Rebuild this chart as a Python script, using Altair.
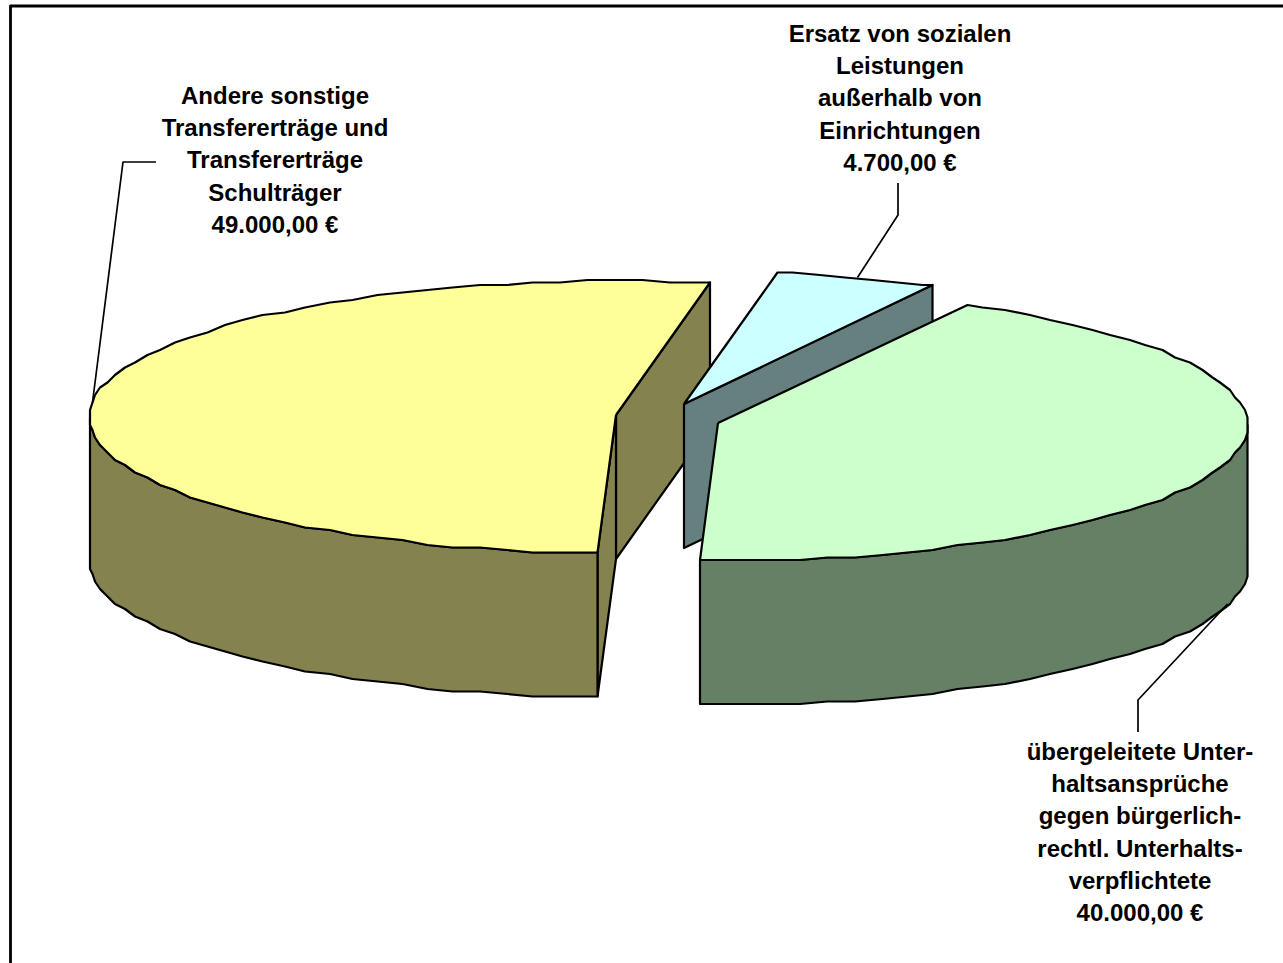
import math
import altair as alt
import pandas as pd

# Slice values in drawing order, counter-clockwise from the start angle
names = ["sonstige", "unterhalt", "ersatz"]
values = [49000.0, 40000.0, 4700.0]
label_lines = [
    ["Andere sonstige", "Transfererträge und", "Transfererträge", "Schulträger"],
    ["übergeleitete Unter-", "haltsansprüche", "gegen bürgerlich-", "rechtl. Unterhalts-", "verpflichtete"],
    ["Ersatz von sozialen", "Leistungen", "außerhalb von", "Einrichtungen"],
]
top_colors = ["#FFFF99", "#CCFFCC", "#CCFFFF"]
side_colors = ["#84824E", "#668066", "#668080"]

# Pie geometry in canvas units
W, H = 1283, 963
RX = [527, 529, 525]
RY, DEPTH = 136, 144
RIM_DROP = 2
START_DEG = 79.8
APEX = [(616, 415), (718, 423), (684, 404)]
STEP_DEG = 3
SNAP = 2.5


def euro(v):
    return f"{v:,.2f}".replace(",", "X").replace(".", ",").replace("X", ".") + " €"


total = sum(values)
spans = []
a = START_DEG
for v in values:
    spans.append((a, a + v / total * 360))
    a = spans[-1][1]


def rim_point(i, deg, drop=0):
    """Point on a slice's outer edge; coarse device-unit snapping gives the stepped outline."""
    cx, cy = APEX[i]
    t = math.radians(deg)
    x = cx + RX[i] * math.cos(t)
    y = cy + RIM_DROP - RY * math.sin(t)
    return (round(x / SNAP) * SNAP, round(y / SNAP) * SNAP + drop)


def arc(i, a0, a1, drop=0):
    # Sample on a shared angle grid so a wall's edge coincides with the top's edge
    lo, hi = min(a0, a1), max(a0, a1)
    first = math.floor(lo / STEP_DEG) + 1
    last = math.ceil(hi / STEP_DEG) - 1
    degs = [lo] + [k * STEP_DEG for k in range(first, last + 1)] + [hi]
    if a0 > a1:
        degs.reverse()
    return [rim_point(i, d, drop) for d in degs]


def wall(i, deg):
    cx, cy = APEX[i]
    p = rim_point(i, deg)
    return [(cx, cy), p, (p[0], p[1] + DEPTH), (cx, cy + DEPTH)]


def shape(points, fill, close=True, width=2.2):
    pts = list(points) + ([points[0]] if close else [])
    df = pd.DataFrame({"x": [p[0] for p in pts], "y": [p[1] for p in pts], "i": range(len(pts))})
    mark = {"stroke": "black", "strokeWidth": width, "strokeJoin": "round"}
    if fill:
        mark["fill"] = fill
    return alt.Chart(df).mark_line(**mark).encode(
        x=alt.X("x:Q", scale=alt.Scale(domain=[0, W]), axis=None),
        y=alt.Y("y:Q", scale=alt.Scale(domain=[H, 0]), axis=None),
        order=alt.Order("i:Q"),
    )


layers = []

# Chart frame, open on the right and bottom where it runs off the canvas
layers.append(shape([(10.5, H), (10.5, 6), (W, 6)], None, close=False, width=2.8))

# Yellow slice: two cut faces, outer wall, top
s0, s1 = spans[0]
layers.append(shape(wall(0, s0), side_colors[0]))
layers.append(shape(wall(0, s1), side_colors[0]))
rim = arc(0, 180, s1)
layers.append(shape(rim + arc(0, s1, 180, DEPTH), side_colors[0]))
layers.append(shape([APEX[0]] + arc(0, s0, s1), top_colors[0]))

# Cyan slice: visible cut face and top
s0, s1 = spans[2]
layers.append(shape(wall(2, s0), side_colors[2]))
layers.append(shape([APEX[2]] + arc(2, s0, s1), top_colors[2]))

# Green slice: outer wall and top
s0, s1 = spans[1]
rim = arc(1, s0, 360)
layers.append(shape(rim + arc(1, 360, s0, DEPTH), side_colors[1]))
layers.append(shape([APEX[1]] + arc(1, s0, s1), top_colors[1]))

# Leader lines start at each slice's mid-angle
mid = [(p + q) / 2 for p, q in spans]
layers.append(shape([rim_point(0, mid[0]), (123, 162), (156, 162)], None, close=False, width=1.7))
layers.append(shape([rim_point(1, mid[1], DEPTH), (1138, 700), (1138, 732)], None, close=False, width=1.7))
layers.append(shape([rim_point(2, mid[2]), (898, 215), (898, 183)], None, close=False, width=1.7))

# Data labels: category lines followed by the formatted value
label_df = pd.DataFrame({
    "text": ["\n".join(lines + [euro(v)]) for lines, v in zip(label_lines, values)],
    "x": [275, 1140, 900],
    "y": [85, 741, 23],
})
layers.append(
    alt.Chart(label_df).mark_text(
        font="Liberation Sans", fontWeight="bold", fontSize=24, color="black",
        lineBreak="\n", lineHeight=32.2, align="center", baseline="top",
    ).encode(
        x=alt.X("x:Q", scale=alt.Scale(domain=[0, W]), axis=None),
        y=alt.Y("y:Q", scale=alt.Scale(domain=[H, 0]), axis=None),
        text="text:N",
    )
)

chart = alt.layer(*layers).properties(
    width=W, height=H, padding=0, autosize=alt.AutoSizeParams(type="none"), background="white"
).configure_view(stroke=None)

chart.save("out.html", embed_options={"renderer": "svg", "actions": False})
